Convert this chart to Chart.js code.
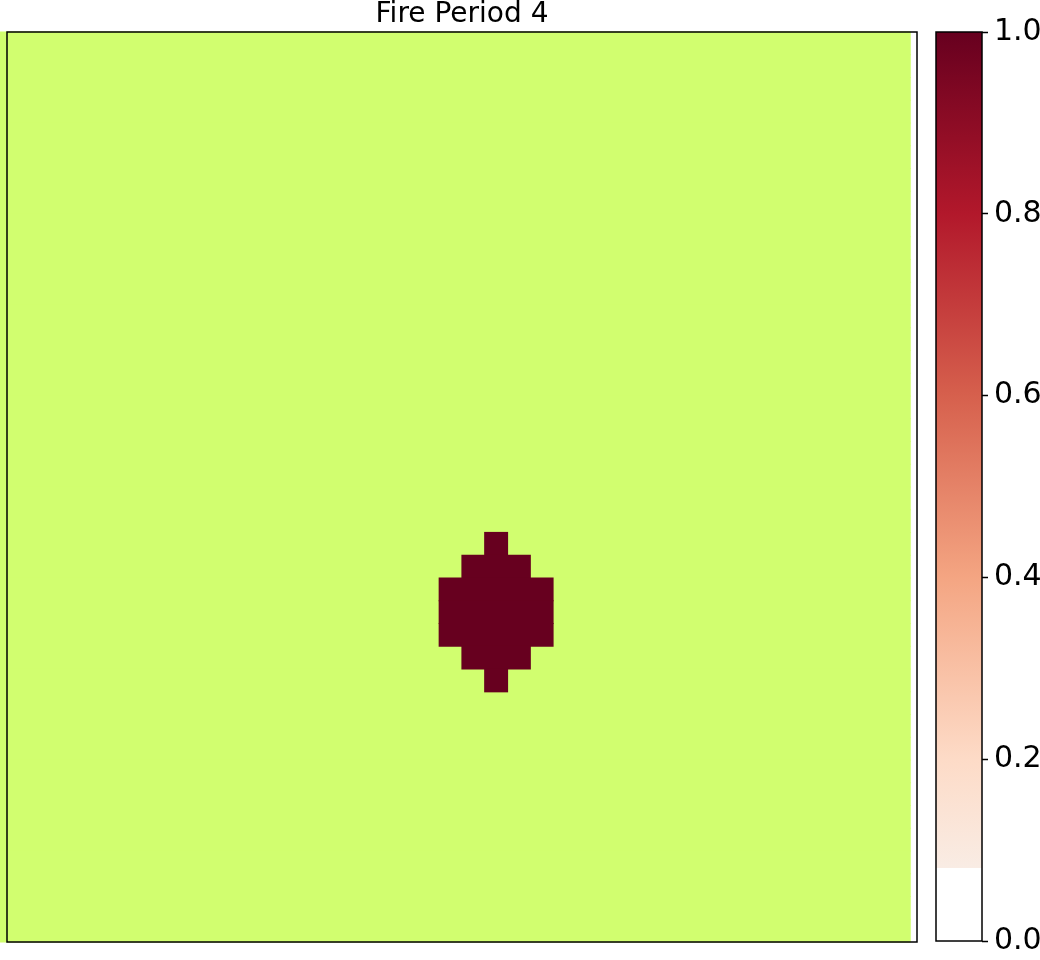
<!DOCTYPE html>
<html>
<head>
<meta charset="utf-8">
<title>Fire Period 4</title>
<script src="https://cdn.jsdelivr.net/npm/chart.js@4.4.0/dist/chart.umd.min.js"></script>
<style>
  html, body { margin: 0; padding: 0; background: #fff; }
  #wrap { position: relative; width: 1040px; height: 960px; }
  #fireChart { position: absolute; left: 0; top: 0; }
  #cbarChart { position: absolute; left: 924px; top: 0; }
</style>
</head>
<body>
<div id="wrap">
  <canvas id="fireChart" width="924" height="960"></canvas>
  <canvas id="cbarChart" width="116" height="960"></canvas>
</div>
<script>
// 40 x 40 landscape grid, row 0 at the top
const gridRows = [0, 1, 2, 3, 4, 5, 6, 7, 8, 9, 10, 11, 12, 13, 14, 15, 16, 17, 18, 19,
  20, 21, 22, 23, 24, 25, 26, 27, 28, 29, 30, 31, 32, 33, 34, 35, 36, 37, 38, 39];
// fuel layer spans the whole grid (image sits a little left of the frame)
const fuelExtent = [-0.3, 39.7];

// burned cells, one run per row (end column exclusive)
const fireRows = [22, 23, 24, 25, 26, 27, 28];
const fireColStart = [21, 20, 19, 19, 19, 20, 21];
const fireColEnd = [22, 23, 24, 24, 24, 23, 22];
const fireValue = 1.0;

// colour bar
const cbarStops = [0.0, 0.2, 0.4, 0.6, 0.8, 1.0];
const cbarColors = ['#f7f7f7', '#fddbc7', '#f4a582', '#d6604d', '#b2182b', '#67001f'];
const cbarWhiteBelow = 0.08;
const cbarTicks = [0.0, 0.2, 0.4, 0.6, 0.8, 1.0];

const FONT = "'DejaVu Sans', 'Liberation Sans', sans-serif";
const FUEL_COLOR = '#d1fe6f';

function hexToRgb(h) {
  return [1, 3, 5].map(i => parseInt(h.slice(i, i + 2), 16));
}

function cmap(v) {
  for (let i = 1; i < cbarStops.length; i++) {
    if (v <= cbarStops[i]) {
      const t = (v - cbarStops[i - 1]) / (cbarStops[i] - cbarStops[i - 1]);
      const a = hexToRgb(cbarColors[i - 1]), b = hexToRgb(cbarColors[i]);
      const c = a.map((x, k) => Math.round(x + (b[k] - x) * t));
      return `rgb(${c[0]},${c[1]},${c[2]})`;
    }
  }
  return cbarColors[cbarColors.length - 1];
}

const framePlugin = {
  id: 'frame',
  afterDraw(chart) {
    const { ctx, chartArea: a } = chart;
    ctx.save();
    ctx.strokeStyle = '#000';
    ctx.lineWidth = 1.5;
    ctx.strokeRect(a.left, a.top, a.right - a.left, a.bottom - a.top);
    ctx.restore();
  }
};

new Chart(document.getElementById('fireChart'), {
  type: 'bar',
  data: {
    datasets: [
      {
        label: 'Burned',
        data: fireRows.map((r, i) => ({ y: r + 0.5, x: [fireColStart[i], fireColEnd[i]] })),
        backgroundColor: cmap(fireValue),
        order: 0
      },
      {
        label: 'Fuel',
        data: gridRows.map(r => ({ y: r + 0.5, x: fuelExtent })),
        backgroundColor: FUEL_COLOR,
        order: 1,
        clip: false
      }
    ]
  },
  options: {
    indexAxis: 'y',
    responsive: false,
    animation: false,
    events: [],
    datasets: {
      bar: {
        grouped: false, barPercentage: 1, categoryPercentage: 1,
        borderWidth: 0, borderSkipped: false, inflateAmount: 0.6
      }
    },
    layout: { padding: { left: 7, right: 7, top: 0, bottom: 18 } },
    plugins: {
      legend: { display: false },
      tooltip: { enabled: false },
      title: {
        display: true,
        text: 'Fire Period 4',
        color: '#000',
        font: { family: FONT, size: 28, weight: 'normal', lineHeight: 0.8 },
        padding: { top: 4, bottom: 5.6 }
      }
    },
    scales: {
      x: { type: 'linear', min: 0, max: 40, offset: false, display: false },
      y: { type: 'linear', min: 0, max: 40, reverse: true, offset: false, display: false }
    }
  },
  plugins: [framePlugin]
});

function cbarFill(context) {
  const chart = context.chart;
  if (!chart.chartArea) return null;
  const y = chart.scales.y;
  const g = chart.ctx.createLinearGradient(0, y.getPixelForValue(0), 0, y.getPixelForValue(1));
  g.addColorStop(0, '#ffffff');
  g.addColorStop(cbarWhiteBelow, '#ffffff');
  g.addColorStop(cbarWhiteBelow, cmap(cbarWhiteBelow));
  cbarStops.forEach((v, i) => {
    if (v > cbarWhiteBelow) g.addColorStop(v, cbarColors[i]);
  });
  return g;
}

new Chart(document.getElementById('cbarChart'), {
  type: 'bar',
  data: {
    labels: [''],
    datasets: [{
      data: [[0, 1]],
      backgroundColor: cbarFill,
      borderWidth: 0,
      borderSkipped: false,
      barPercentage: 1,
      categoryPercentage: 1
    }]
  },
  options: {
    responsive: false,
    animation: false,
    events: [],
    layout: { padding: { left: 12, top: 32, bottom: 19, right: 0 } },
    plugins: { legend: { display: false }, tooltip: { enabled: false } },
    scales: {
      x: { display: false },
      y: {
        position: 'right',
        min: 0,
        max: 1,
        afterBuildTicks: ax => { ax.ticks = cbarTicks.map(v => ({ value: v })); },
        afterFit: ax => {
          ax.width = 58;
          ax.paddingTop = 0;
          ax.paddingBottom = 0;
        },
        ticks: {
          color: '#000',
          padding: 6,
          font: { family: FONT, size: 30, lineHeight: 1 },
          callback: v => Number(v).toFixed(1)
        },
        grid: { drawOnChartArea: false, drawTicks: true, tickLength: 6, tickWidth: 1.5, tickColor: '#000' },
        border: { display: false }
      }
    }
  },
  plugins: [framePlugin]
});
</script>
</body>
</html>
